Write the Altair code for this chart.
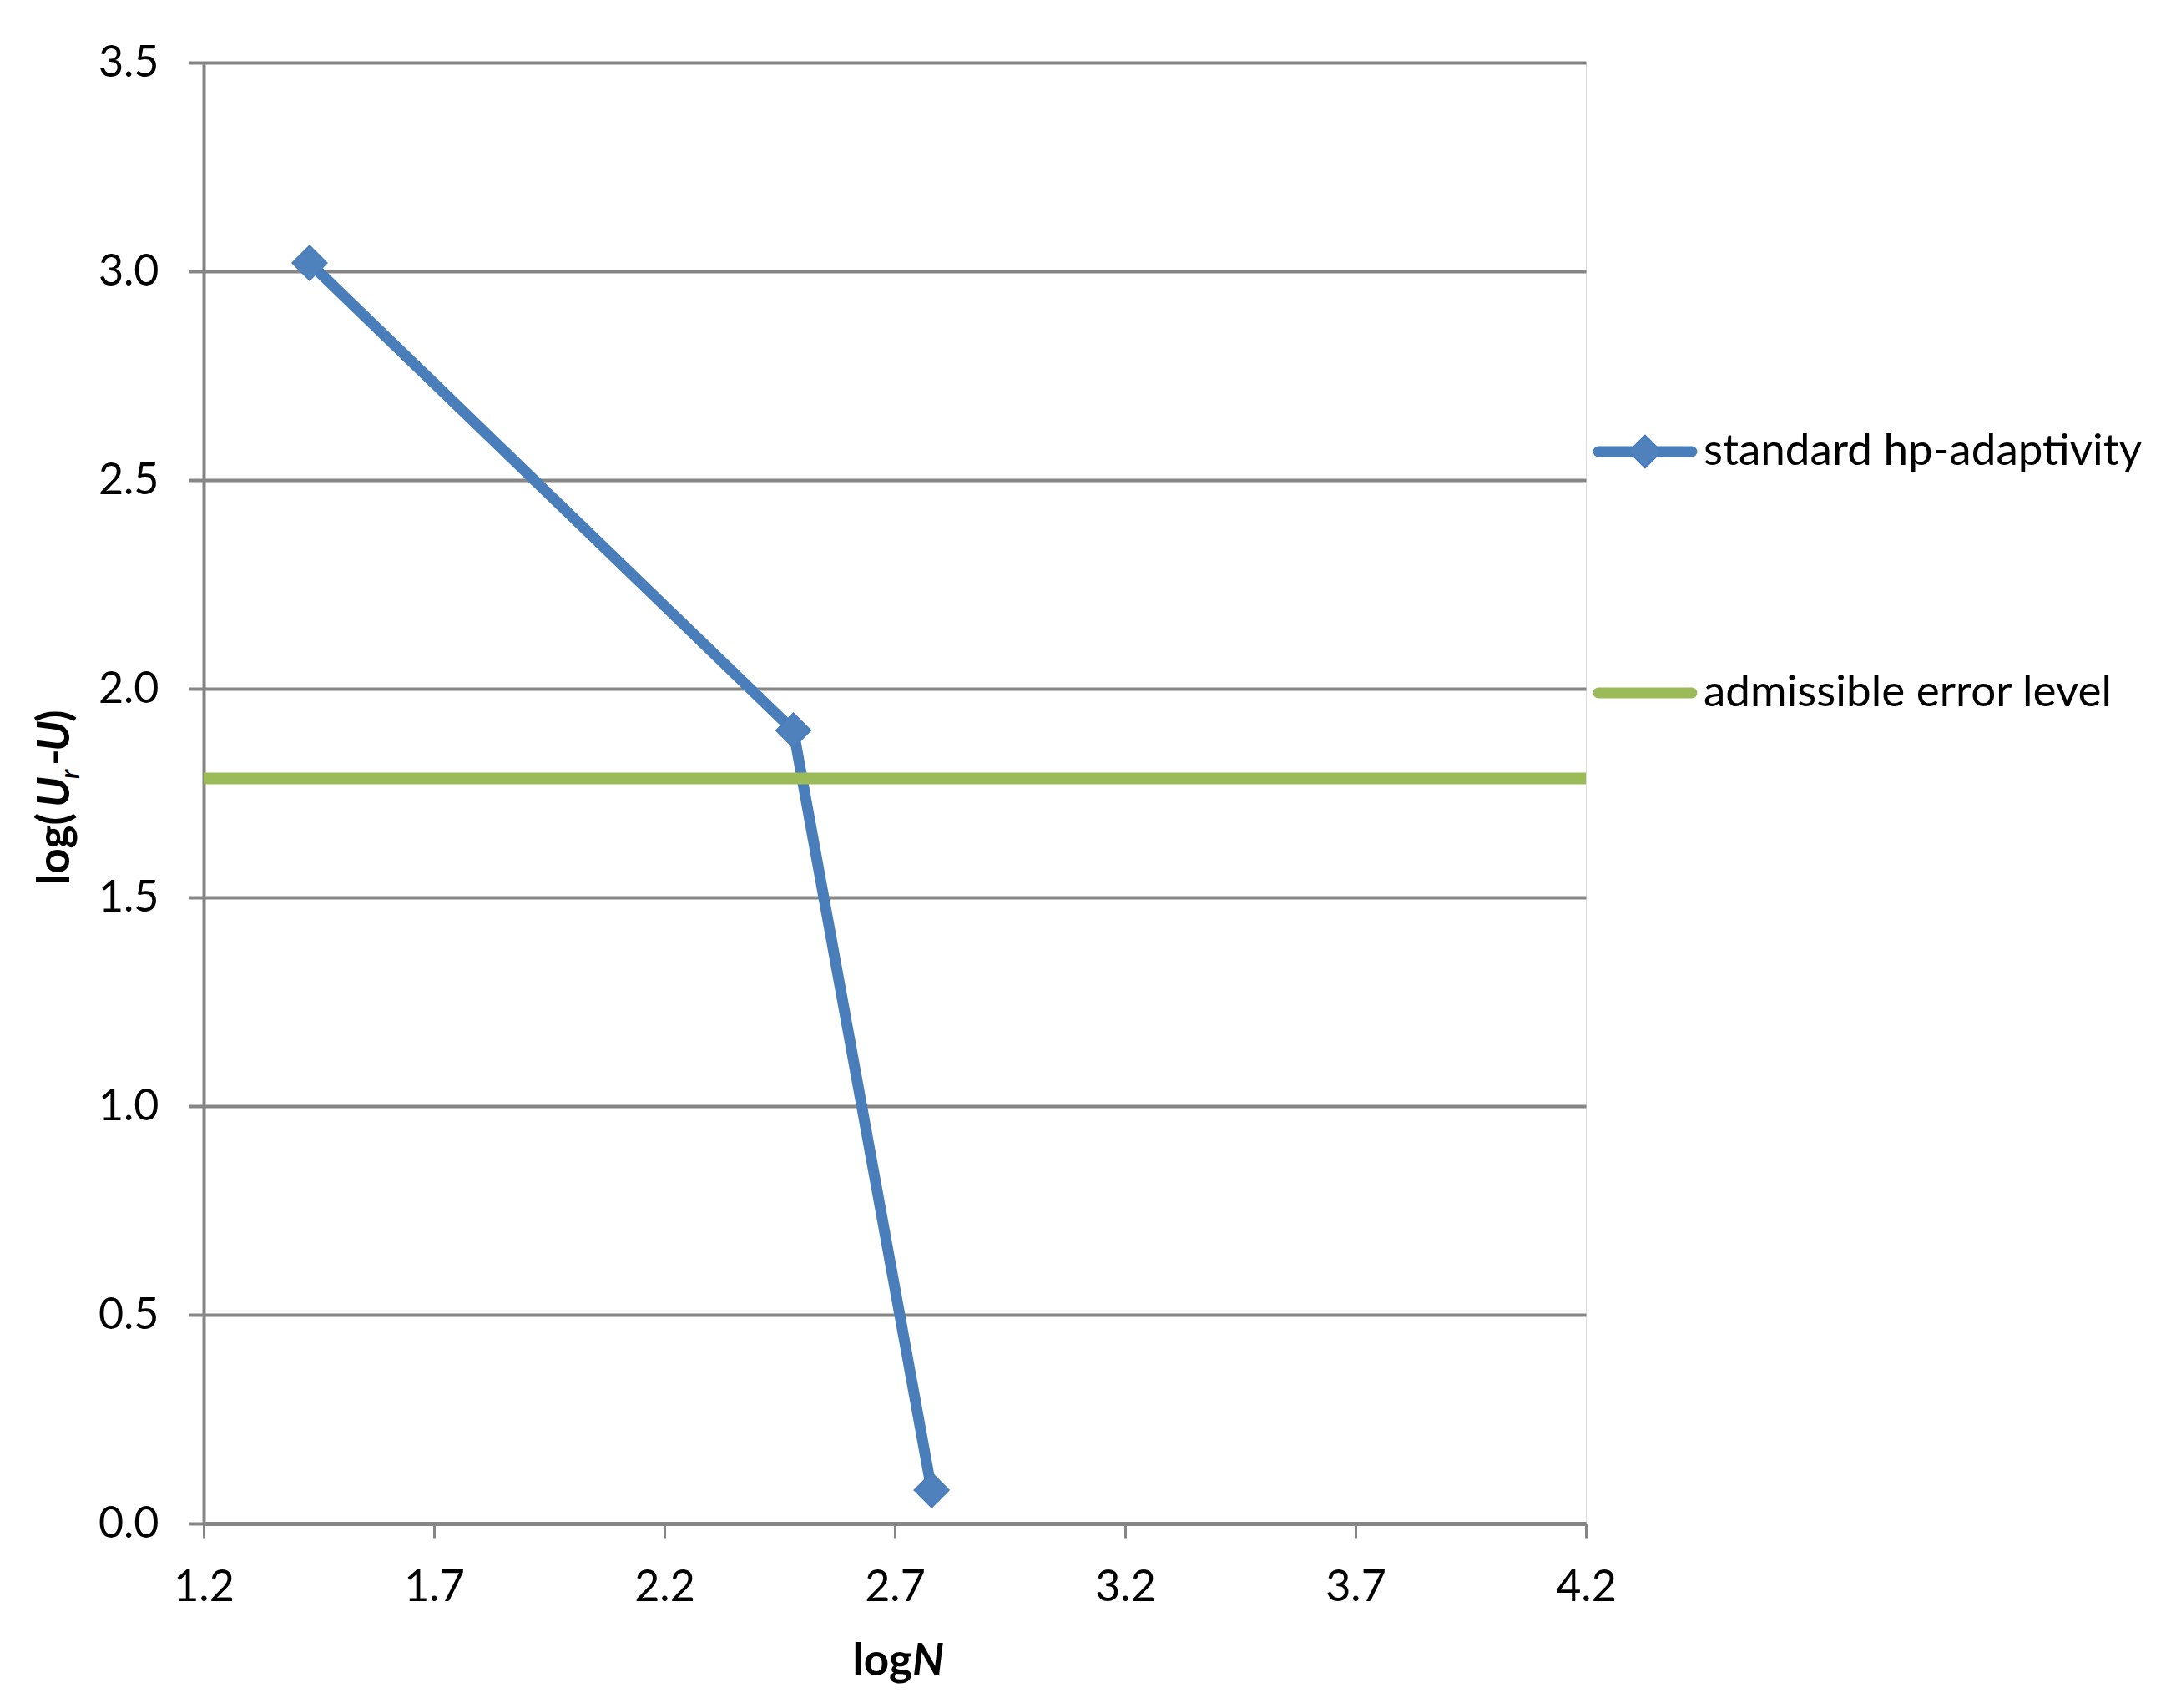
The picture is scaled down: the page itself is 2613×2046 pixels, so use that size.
import altair as alt
import pandas as pd

# ---- data ----
series_name = "standard hp-adaptivity"
log_n = [1.43, 2.48, 2.78]
log_err = [3.02, 1.90, 0.08]

level_name = "admissible error level"
level_x = [1.2, 4.2]
level_y = [1.785, 1.785]

x_ticks = [1.2, 1.7, 2.2, 2.7, 3.2, 3.7, 4.2]
y_ticks = [0.0, 0.5, 1.0, 1.5, 2.0, 2.5, 3.0, 3.5]

legend_labels = [series_name, level_name]

BLUE_LINE = "#4A7EBB"
BLUE_FILL = "#4F81BD"
GREEN = "#9BBB59"
GRID = "#868686"
FONT = "Lato"

W, H = 1656, 1750

series_df = pd.DataFrame({"x": log_n, "y": log_err, "s": series_name})
level_df = pd.DataFrame({"x": level_x, "y": level_y, "s": level_name})

xscale = alt.Scale(domain=[x_ticks[0], x_ticks[-1]], nice=False, zero=False)
yscale = alt.Scale(domain=[y_ticks[0], y_ticks[-1]], nice=False, zero=False)

x_axis = alt.Axis(values=x_ticks, format=".1f", grid=False, title=None,
                  domainColor=GRID, domainWidth=5, tickColor=GRID, tickWidth=3,
                  tickSize=17, labelFont=FONT, labelFontSize=52, labelColor="black",
                  labelPadding=34, labelFlush=False, labelOverlap=False)
y_axis = alt.Axis(values=y_ticks, format=".1f", grid=True, gridColor=GRID, gridWidth=4,
                  title=None, domainColor=GRID, domainWidth=4, tickColor=GRID,
                  tickWidth=4, tickSize=18, labelFont=FONT, labelFontSize=52,
                  labelColor="black", labelPadding=36, labelFlush=False,
                  labelOverlap=False)

base_line = alt.Chart(series_df).mark_line(
    color=BLUE_LINE, strokeWidth=13, strokeCap="round", strokeJoin="round"
).encode(
    x=alt.X("x:Q", scale=xscale, axis=x_axis),
    y=alt.Y("y:Q", scale=yscale, axis=y_axis),
)

points = alt.Chart(series_df).mark_point(
    shape="diamond", size=1700, filled=True, fill=BLUE_FILL, stroke=BLUE_LINE,
    strokeWidth=2, opacity=1
).encode(x=alt.X("x:Q", scale=xscale), y=alt.Y("y:Q", scale=yscale))

level = alt.Chart(level_df).mark_line(
    color=GREEN, strokeWidth=14, strokeCap="butt", clip=False
).encode(x=alt.X("x:Q", scale=xscale), y=alt.Y("y:Q", scale=yscale))

# ---- legend (drawn manually: line + diamond symbol) ----
leg_blue_line = alt.Chart(pd.DataFrame({"a": [0]})).mark_rule(
    color=BLUE_LINE, strokeWidth=13, strokeCap="round"
).encode(x=alt.value(1671), x2=alt.value(1783), y=alt.value(466))
leg_blue_pt = alt.Chart(pd.DataFrame({"a": [0]})).mark_point(
    shape="diamond", size=1500, filled=True, fill=BLUE_FILL, stroke=BLUE_LINE,
    strokeWidth=2, opacity=1
).encode(x=alt.value(1727), y=alt.value(466))
leg_green_line = alt.Chart(pd.DataFrame({"a": [0]})).mark_rule(
    color=GREEN, strokeWidth=13, strokeCap="round"
).encode(x=alt.value(1671), x2=alt.value(1783), y=alt.value(755))
leg_text1 = alt.Chart(pd.DataFrame({"t": [legend_labels[0]]})).mark_text(
    font=FONT, fontSize=53, align="left", baseline="middle", color="black"
).encode(text="t:N", x=alt.value(1797), y=alt.value(466))
leg_text2 = alt.Chart(pd.DataFrame({"t": [legend_labels[1]]})).mark_text(
    font=FONT, fontSize=53, align="left", baseline="middle", color="black"
).encode(text="t:N", x=alt.value(1797), y=alt.value(755))

# ---- axis titles with mixed styles ----
def txt(s, x, y, size=53, style="normal", align="left", angle=0, dy=0):
    kw = dict(font=FONT, fontSize=size, fontWeight="bold", fontStyle=style,
              align=align, baseline="alphabetic", color="black", dy=dy)
    if angle:
        kw["angle"] = angle
    return alt.Chart(pd.DataFrame({"t": [s]})).mark_text(**kw).encode(
        text="t:N", x=alt.value(x), y=alt.value(y))

xt1 = txt("log", 849, 1932, align="right")
xt2 = txt("N", 849, 1932, style="italic")

YX = -161
yt = [
    txt("log(", YX, 985, angle=270),
    txt("U", YX, 892, style="italic", angle=270),
    txt("r", YX, 858, size=32, style="italic", angle=270, dy=12),
    txt("-", YX, 842, angle=270),
    txt("U", YX, 825, style="italic", angle=270),
    txt(")", YX, 790, angle=270),
]

chart = alt.layer(
    base_line, points, level,
    leg_blue_line, leg_blue_pt, leg_green_line, leg_text1, leg_text2,
    xt1, xt2, *yt
).properties(
    width=W, height=H,
    autosize=alt.AutoSizeParams(type="none"),
    padding={"left": 236, "top": 67, "right": 680, "bottom": 200},
).configure_view(stroke=None).configure(background="white")

chart.save("out.html", embed_options={"renderer": "svg", "actions": False})
